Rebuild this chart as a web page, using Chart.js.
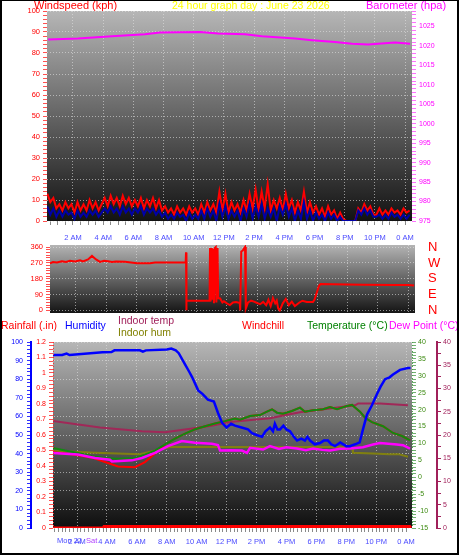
<!DOCTYPE html>
<html>
<head>
<meta charset="utf-8">
<title>24 hour graph</title>
<script src="https://cdn.jsdelivr.net/npm/chart.js@4.4.1/dist/chart.umd.min.js"></script>
<style>
  body { margin: 0; background: #fff; }
  #wrap { position: relative; width: 459px; height: 555px; background: #fff; overflow: hidden; }
  #wrap canvas { position: absolute; left: 0; }
  #frame { position: absolute; left: 0; top: 0; width: 459px; height: 555px; box-sizing: border-box;
           border: 2px solid #000; border-top-width: 1px; pointer-events: none; }
</style>
</head>
<body>
<div id="wrap">
  <canvas id="wind" width="459" height="250" style="top:0"></canvas>
  <canvas id="dir" width="459" height="80" style="top:238px"></canvas>
  <canvas id="temp" width="459" height="245" style="top:310px"></canvas>
  <div id="frame"></div>
</div>
<script>
// ---- wind speed (kph), one reading every 0.2 h starting 0.3 h ----
var windGust = [13, 9, 11, 6, 8, 5, 9, 6, 8, 4,
                9, 5, 8, 5, 10, 6, 9, 5, 8, 11,
                7, 12, 8, 11, 7, 12, 8, 11, 7, 10,
                7, 11, 6, 10, 7, 11, 6, 10, 5, 7,
                4, 6, 3, 7, 4, 6, 3, 7, 4, 6,
                3, 8, 4, 9, 5, 8, 4, 14, 5, 13,
                4, 9, 5, 8, 4, 10, 5, 13, 6, 15,
                5, 14, 6, 17.5, 5, 10, 6, 11, 5, 13,
                6, 10, 4, 9, 5, 14, 4, 9, 4, 7,
                3, 6, 2, 7, 3, 5, 1, 4, 1, 0,
                0, 0, 0, 6, 4, 8, 5, 7, 3, 3,
                6, 3, 5, 3, 6, 4, 5, 3, 6, 4,
                5];
var windAvg = [7, 3, 6, 2, 5, 2, 5, 3, 4, 1,
               5, 2, 4, 2, 5, 3, 5, 2, 4, 6,
               4, 7, 4, 6, 3, 7, 4, 6, 3, 6,
               4, 7, 3, 6, 4, 6, 3, 5, 2, 4,
               1, 3, 1, 4, 2, 3, 0, 4, 1, 3,
               1, 5, 1, 6, 2, 5, 0, 8, 2, 7,
               1, 5, 2, 5, 0, 6, 2, 8, 1, 7,
               2, 8, 1, 6, 2, 6, 0, 7, 3, 8,
               2, 6, 0, 5, 1, 9, 1, 5, 0, 4,
               1, 3, 0, 4, 1, 3, 0, 2, 0, 0,
               0, 0, 0, 5, 3, 6, 3, 5, 2, 2,
               3, 1, 3, 1, 4, 2, 3, 1, 3, 1,
               3];
var windHours = windGust.map(function (v, i) { return 0.3 + i * 0.2; });

// ---- barometer (hpa) ----
var baroHours = [0.35, 2.33, 4.59, 6.77, 7.77, 10.42, 11.61, 13.4, 14.52, 16.71, 17.84, 19.36, 20.49, 21.55, 22.21, 23.34, 24.33];
var baroValues = [1021.7, 1021.9, 1022.5, 1023.0, 1023.5, 1023.6, 1023.2, 1023.0, 1022.5, 1021.9, 1021.5, 1021.0, 1020.6, 1020.4, 1020.6, 1020.9, 1020.6];

// ---- wind direction (deg) ----
var dirHours = [0.28, 0.48, 0.74, 1.07, 1.34, 1.6, 1.94, 2.27, 2.47, 2.8,
                3.06, 3.33, 3.59, 3.86, 4.12, 4.39, 4.65, 5.25, 6.04, 6.9,
                7.24, 8.23, 9.27, 9.29, 9.31, 9.33, 10.85, 10.88, 10.92, 11.0,
                11.04, 11.1, 11.14, 11.2, 11.26, 11.3, 11.38, 11.42, 11.55, 11.7,
                11.8, 12.0, 12.2, 12.4, 12.6, 12.8, 12.85, 12.88, 12.95, 13.05,
                13.12, 13.2, 13.25, 13.4, 13.6, 13.8, 14.0, 14.2, 14.4, 14.6,
                14.75, 14.9, 15.05, 15.2, 15.3, 15.4, 15.5, 15.7, 15.9, 16.1,
                16.3, 16.5, 16.8, 17.0, 17.3, 17.7, 17.8, 17.95, 18.1, 18.2,
                19.0, 21.0, 23.0, 24.0, 24.4];
var dirValues = [268, 275, 272, 280, 276, 282, 278, 285, 278, 290,
                 310, 290, 276, 282, 280, 275, 278, 276, 268, 268,
                 272, 272, 272, 330, 0, 55, 55, 355, 50, 355,
                 60, 350, 40, 355, 360, 45, 355, 70, 68, 45,
                 52, 40, 30, 45, 48, 44, 45, 0, 335, 340,
                 350, 360, 10, 45, 55, 50, 42, 35, 48, 30,
                 60, 25, 70, 40, 55, 10, 0, 40, 65, 30,
                 50, 25, 45, 55, 48, 48, 60, 100, 140, 150,
                 148, 146, 145, 145, 142];
var compass = { 0: 'N', 90: 'E', 180: 'S', 270: 'W', 360: 'N' };

// ---- lower graph ----
var humHours = [0.39, 1.0, 1.3, 1.5, 3.7, 4.3, 4.5, 6.2, 6.4, 6.6,
                8.0, 8.3, 8.6, 8.8, 9.22, 9.5, 9.7, 10.1, 10.4, 10.75,
                11.15, 11.42, 11.7, 12.0, 12.3, 12.56, 13.0, 13.43, 13.7, 14.0,
                14.37, 14.6, 14.9, 15.1, 15.23, 15.4, 15.57, 15.8, 16.0, 16.24,
                16.5, 16.71, 17.0, 17.24, 17.4, 17.58, 17.9, 18.25, 18.5, 18.78,
                19.0, 19.25, 19.6, 20.0, 20.25, 20.6, 20.9, 21.12, 21.39, 21.72,
                22.06, 22.3, 22.6, 22.9, 23.13, 23.6, 24.13, 24.3];
var humValues = [93, 93, 93.8, 93, 94.5, 94.6, 95.5, 95.5, 94.8, 95.5,
                 96, 96.5, 95.5, 94, 88, 84, 81, 74, 72, 69,
                 68, 62, 56.5, 54, 56, 55, 54, 53, 51, 50,
                 49, 52, 54, 52, 56, 53, 53, 55, 53, 52,
                 49, 47, 48, 47, 49, 47, 45, 45.7, 47, 47,
                 45, 44, 46, 44, 44, 45, 46, 53, 61, 66,
                 72, 76, 80, 81, 82.5, 85, 86, 86];

var tempHours = [0.39, 1.19, 2.06, 3.0, 3.87, 4.74, 5.87, 6.54, 7.21, 7.88,
                 8.55, 9.22, 9.89, 10.56, 11.22, 11.89, 12.56, 12.9, 13.57, 14.23,
                 14.7, 15.04, 15.37, 15.77, 16.37, 16.91, 17.24, 17.78, 18.45, 18.92,
                 19.39, 20.06, 20.39, 20.59, 20.92, 21.26, 21.72, 22.46, 23.13, 23.73,
                 24.27];
var tempValues = [8.7, 7.9, 7.2, 6.2, 5.7, 5.5, 5.7, 6.7, 7.9, 9.7,
                  11.4, 12.9, 14.2, 15.1, 15.9, 16.6, 17.4, 17.0, 18.1, 18.4,
                  19.4, 20.1, 19.1, 18.8, 19.6, 20.6, 19.4, 19.8, 20.1, 20.8,
                  20.1, 21.1, 21.4, 20.6, 19.4, 17.6, 16.3, 15.1, 13.1, 12.2,
                  10.9];
var chillValues = [7.4, 7.0, 6.5, 5.8, 4.5, 3.2, 3.0, 4.5, 7.0, 9.7,
                   11.4, 12.9, 14.2, 15.1, 15.9, 16.6, 17.4, 17.0, 18.1, 18.4,
                   19.4, 20.1, 19.1, 18.8, 19.6, 20.6, 19.4, 19.8, 20.1, 20.8,
                   20.1, 21.1, 21.4, 20.6, 19.4, 17.6, 16.3, 15.1, 13.1, 12.2,
                   10.9];

var dewHours = [0.39, 2.06, 3.2, 4.2, 4.33, 5.67, 6.34, 7.21, 8.08, 9.01,
                9.89, 11.02, 11.42, 11.56, 12.23, 13.03, 13.36, 13.57, 14.44, 14.9,
                15.5, 16.0, 16.71, 17.3, 17.78, 18.4, 18.92, 19.6, 20.25, 21.12,
                21.79, 22.26, 23.4, 23.8, 24.27];
var dewValues = [7.2, 6.7, 5.7, 5.2, 4.7, 5.0, 5.7, 7.2, 9.2, 10.7,
                 10.2, 9.9, 9.5, 7.9, 8.0, 7.9, 7.2, 8.7, 8.2, 9.2,
                 8.4, 8.9, 8.5, 8.0, 8.5, 8.1, 7.9, 8.4, 8.5, 8.9,
                 9.7, 10.1, 9.7, 9.5, 8.5];

var inTempHours = [0.39, 3.53, 6.34, 7.88, 9.7, 11.0, 11.9, 12.23, 14.9, 16.9, 18.9, 20.6, 20.8, 22.26, 24.13];
var inTempValues = [23, 21.6, 20.8, 20.6, 21.4, 22, 22.6, 22.8, 23.6, 24.9, 25.7, 26.4, 26.8, 26.8, 26.4];

var inHumHours = [0.39, 3.2, 6.2, 7.4, 8.2, 10.35, 20.4, 20.45, 21.79, 22.9, 23.5, 24.13];
var inHumValues = [41.5, 40.4, 39.7, 41.9, 43.5, 43.5, 43.5, 40.4, 40, 39.7, 39.7, 38.3];

var rainHours = [0.39, 3.73, 3.8, 24.25, 24.32];
var rainValues = [0, 0, 0.01, 0.01, 0];

// ---- helpers ----
var GRID = 'rgba(225,225,225,0.6)';
var FONT = 'Arial, "Liberation Sans", sans-serif';
Chart.defaults.font.family = FONT;

function pts(xs, ys) {
    return xs.map(function (x, i) { return { x: x, y: ys[i] }; });
}
function isMult(v, m) {
    var r = v / m;
    return Math.abs(r - Math.round(r)) < 1e-6;
}
function stepTicks(from, to, step) {
    return function (scale) {
        var t = [];
        for (var i = 0; from + i * step <= to + 1e-9; i++) {
            t.push({ value: +(from + i * step).toFixed(4) });
        }
        scale.ticks = t;
    };
}
// fixed axis sizes, no extra room for overflowing labels
function fixW(w) { return function (s) { s.width = w; s.paddingTop = 0; s.paddingBottom = 0; }; }
function fixH(h) { return function (s) { s.height = h; s.paddingLeft = 0; s.paddingRight = 0; }; }
function hourLabel(h) {
    var hh = Math.round(h) % 24;
    if (hh === 0) return '0 AM';
    if (hh < 12) return hh + ' AM';
    if (hh === 12) return '12 PM';
    return (hh - 12) + ' PM';
}
function majorGrid(m) {
    return function (c) { return c.tick && isMult(c.tick.value, m) ? GRID : 'transparent'; };
}

// plot background: grey fading to black
var plotBg = {
    id: 'plotBg',
    beforeDraw: function (chart, args, opts) {
        var a = chart.chartArea, ctx = chart.ctx;
        var g = ctx.createLinearGradient(0, a.top, 0, a.bottom);
        g.addColorStop(0, opts.top || '#b4b4b4');
        g.addColorStop(1, opts.bottom || '#111111');
        ctx.save();
        ctx.fillStyle = g;
        ctx.fillRect(a.left, a.top, a.width, a.height);
        ctx.restore();
    }
};
// free texts (titles / legend)
var texts = {
    id: 'texts',
    afterDraw: function (chart, args, opts) {
        var ctx = chart.ctx;
        ctx.save();
        (opts.items || []).forEach(function (it) {
            ctx.font = (it.size || 10.5) + 'px ' + FONT;
            ctx.fillStyle = it.color;
            ctx.textAlign = 'left';
            ctx.textBaseline = it.base || 'middle';
            ctx.fillText(it.text, it.x, it.y);
        });
        ctx.restore();
    }
};
// dotted axis lines
var axisDots = {
    id: 'axisDots',
    afterDraw: function (chart, args, opts) {
        var ctx = chart.ctx, a = chart.chartArea;
        (opts.items || []).forEach(function (it) {
            var s = chart.scales[it.id];
            var x = s.position === 'left' ? s.right : s.left;
            ctx.save();
            ctx.setLineDash([1, 2]);
            ctx.strokeStyle = it.color;
            ctx.lineWidth = 1;
            ctx.beginPath();
            ctx.moveTo(x + 0.5, a.top);
            ctx.lineTo(x + 0.5, a.bottom);
            ctx.stroke();
            ctx.restore();
        });
    }
};
Chart.register(plotBg, texts, axisDots);

var base = {
    responsive: false,
    animation: false,
    events: [],
    elements: { point: { radius: 0 }, line: { tension: 0 } }
};

// ================= wind speed / barometer =================
new Chart(document.getElementById('wind'), {
    type: 'line',
    data: {
        datasets: [
            { data: pts(windHours, windAvg), borderColor: '#0000a8', borderWidth: 2, yAxisID: 'y' },
            { data: pts(windHours, windGust), borderColor: '#ff0000', borderWidth: 2, yAxisID: 'y' },
            { data: pts(baroHours, baroValues), borderColor: '#ff00ff', borderWidth: 2, yAxisID: 'y1' }
        ]
    },
    options: Object.assign({}, base, {
        layout: { padding: { top: 11 } },
        plugins: {
            legend: { display: false }, tooltip: { enabled: false },
            plotBg: { top: '#b6b6b6', bottom: '#121212' },
            texts: { items: [
                { text: 'Windspeed (kph)', x: 34, y: 9, color: '#ff0000', size: 11, base: 'alphabetic' },
                { text: '24 hour graph day : June 23 2026', x: 172, y: 9, color: '#ffff00', size: 10.5, base: 'alphabetic' },
                { text: 'Barometer (hpa)', x: 366, y: 9, color: '#ff00ff', size: 11, base: 'alphabetic' }
            ] }
        },
        scales: {
            x: {
                type: 'linear', min: 0.28, max: 24.46,
                afterBuildTicks: stepTicks(0.5, 24, 0.5), afterFit: fixH(29),
                ticks: { autoSkip: false, maxRotation: 0, color: '#4a4aff', font: { size: 7.5 }, padding: 8,
                         callback: function (v) { return isMult(v, 2) ? hourLabel(v) : ''; } },
                grid: { color: majorGrid(2), tickColor: '#8a8a8a', tickLength: 4 },
                border: { display: false, dash: [1, 2] }
            },
            y: {
                position: 'left', min: 0, max: 100,
                afterBuildTicks: stepTicks(0, 100, 2), afterFit: fixW(47),
                ticks: { autoSkip: false, color: '#ff0000', font: { size: 7.5 }, padding: 3,
                         callback: function (v) { return isMult(v, 10) ? v : ''; } },
                grid: { color: majorGrid(10), tickColor: '#ff5050', tickLength: 4 },
                border: { display: false, dash: [1, 2] }
            },
            y1: {
                position: 'right', min: 975, max: 1029,
                afterBuildTicks: stepTicks(975, 1029, 1), afterFit: fixW(47),
                ticks: { autoSkip: false, color: '#ff00ff', font: { size: 7 }, padding: 3,
                         callback: function (v) { return isMult(v, 5) ? v : ''; } },
                grid: { drawOnChartArea: false, tickColor: '#ff70ff', tickLength: 4 },
                border: { display: false }
            }
        }
    })
});

// ================= wind direction =================
new Chart(document.getElementById('dir'), {
    type: 'line',
    data: {
        datasets: [
            { data: pts(dirHours, dirValues), borderColor: '#ff0000', borderWidth: 2, yAxisID: 'y' }
        ]
    },
    options: Object.assign({}, base, {
        layout: { padding: { top: 7 } },
        plugins: {
            legend: { display: false }, tooltip: { enabled: false },
            plotBg: { top: '#b4b4b4', bottom: '#141414' }
        },
        scales: {
            x: {
                type: 'linear', min: 0.28, max: 24.46,
                afterBuildTicks: stepTicks(2, 24, 2), afterFit: fixH(5),
                ticks: { display: false },
                grid: { color: GRID, drawTicks: false },
                border: { display: false, dash: [1, 2] }
            },
            y: {
                position: 'left', min: -15, max: 372,
                afterBuildTicks: stepTicks(0, 360, 15), afterFit: fixW(50),
                ticks: { autoSkip: false, color: '#ff0000', font: { size: 7.5 }, padding: 3,
                         callback: function (v) { return isMult(v, 90) ? v : ''; } },
                grid: { color: majorGrid(90), tickColor: '#ff5050', tickLength: 4 },
                border: { display: false, dash: [1, 2] }
            },
            y1: {
                position: 'right', min: -15, max: 372,
                afterBuildTicks: stepTicks(0, 360, 90), afterFit: fixW(44),
                ticks: { autoSkip: false, color: '#ff0000', font: { size: 13 }, padding: 13,
                         callback: function (v) { return compass[v]; } },
                grid: { drawOnChartArea: false, drawTicks: false },
                border: { display: false }
            }
        }
    })
});

// ================= humidity / temperatures / rain =================
new Chart(document.getElementById('temp'), {
    type: 'line',
    data: {
        datasets: [
            { data: pts(humHours, humValues), borderColor: '#0000ff', borderWidth: 2.5, yAxisID: 'hum' },
            { data: pts(dewHours, dewValues), borderColor: '#ff00ff', borderWidth: 2.5, yAxisID: 'temp' },
            { data: pts(tempHours, tempValues), borderColor: '#108a10', borderWidth: 2, yAxisID: 'temp' },
            { data: pts(tempHours, chillValues), borderColor: '#ff0000', borderWidth: 2, yAxisID: 'temp' },
            { data: pts(inTempHours, inTempValues), borderColor: '#a02858', borderWidth: 2, yAxisID: 'inTemp' },
            { data: pts(inHumHours, inHumValues), borderColor: '#808010', borderWidth: 2, yAxisID: 'hum' },
            { data: pts(rainHours, rainValues), borderColor: '#ff0000', borderWidth: 3, yAxisID: 'rain' }
        ]
    },
    options: Object.assign({}, base, {
        layout: { padding: { top: 32 } },
        plugins: {
            legend: { display: false }, tooltip: { enabled: false },
            plotBg: { top: '#b6b6b6', bottom: '#0e0e0e' },
            axisDots: { items: [ { id: 'rain', color: '#ff3030' }, { id: 'temp', color: '#50a050' } ] },
            texts: { items: [
                { text: 'Rainfall (.in)', x: 1, y: 16, color: '#ff0000' },
                { text: 'Humidity', x: 65, y: 16, color: '#0000ff' },
                { text: 'Indoor temp', x: 118, y: 11, color: '#a0205a' },
                { text: 'Indoor hum', x: 118, y: 23, color: '#808000' },
                { text: 'Windchill', x: 242, y: 16, color: '#ff0000' },
                { text: 'Temperature (\u00b0C)', x: 307, y: 16, color: '#008000' },
                { text: 'Dew Point (\u00b0C)', x: 389, y: 16, color: '#ff00ff' },
                { text: 'Mon 22', x: 57, y: 231, color: '#4a4aff', size: 7.5 },
                { text: 'Sat', x: 86, y: 231, color: '#b040ff', size: 7.5 }
            ] }
        },
        scales: {
            x: {
                type: 'linear', min: 0.39, max: 24.4,
                afterBuildTicks: stepTicks(0.5, 24, 0.25), afterFit: fixH(27),
                ticks: { autoSkip: false, maxRotation: 0, color: '#4a4aff', font: { size: 7.5 }, padding: 5,
                         callback: function (v) { return isMult(v, 2) ? hourLabel(v) : ''; } },
                grid: { color: majorGrid(2), tickColor: '#8a8a8a', tickLength: 4 },
                border: { display: false, dash: [1, 2] }
            },
            hum: {
                position: 'left', weight: 2, min: 0, max: 100,
                afterBuildTicks: stepTicks(0, 100, 2), afterFit: fixW(31),
                ticks: { autoSkip: false, color: '#0000ff', font: { size: 7 }, padding: 4,
                         callback: function (v) { return isMult(v, 10) ? v : ''; } },
                grid: { color: majorGrid(10), tickColor: '#3030ff', tickLength: 4 },
                border: { display: true, color: '#0000ff', width: 2, dash: [1, 2] }
            },
            rain: {
                position: 'left', weight: 1, min: 0, max: 1.2,
                afterBuildTicks: stepTicks(0, 1.2, 0.025), afterFit: fixW(22),
                ticks: { autoSkip: false, color: '#ff0000', font: { size: 7 }, padding: 3,
                         callback: function (v) { return isMult(v, 0.1) ? String(Math.round(v * 10) / 10) : ''; } },
                grid: { drawOnChartArea: false, tickColor: '#ff5050', tickLength: 4 },
                border: { display: false }
            },
            temp: {
                position: 'right', weight: 1, min: -15, max: 40,
                afterBuildTicks: stepTicks(-15, 40, 1), afterFit: fixW(25),
                ticks: { autoSkip: false, color: '#3c8a10', font: { size: 7 }, padding: 2,
                         callback: function (v) { return isMult(v, 5) ? v : ''; } },
                grid: { drawOnChartArea: false, tickColor: '#70b070', tickLength: 4 },
                border: { display: false }
            },
            inTemp: {
                position: 'right', weight: 2, min: 0, max: 40,
                afterBuildTicks: stepTicks(0, 40, 2.5), afterFit: fixW(22),
                ticks: { autoSkip: false, color: '#a0205a', font: { size: 7 }, padding: 2,
                         callback: function (v) { return isMult(v, 5) ? v : ''; } },
                grid: { drawOnChartArea: false, tickColor: '#a0205a', tickLength: 4 },
                border: { display: true, color: '#a0205a', width: 2 }
            }
        }
    })
});
</script>
</body>
</html>
